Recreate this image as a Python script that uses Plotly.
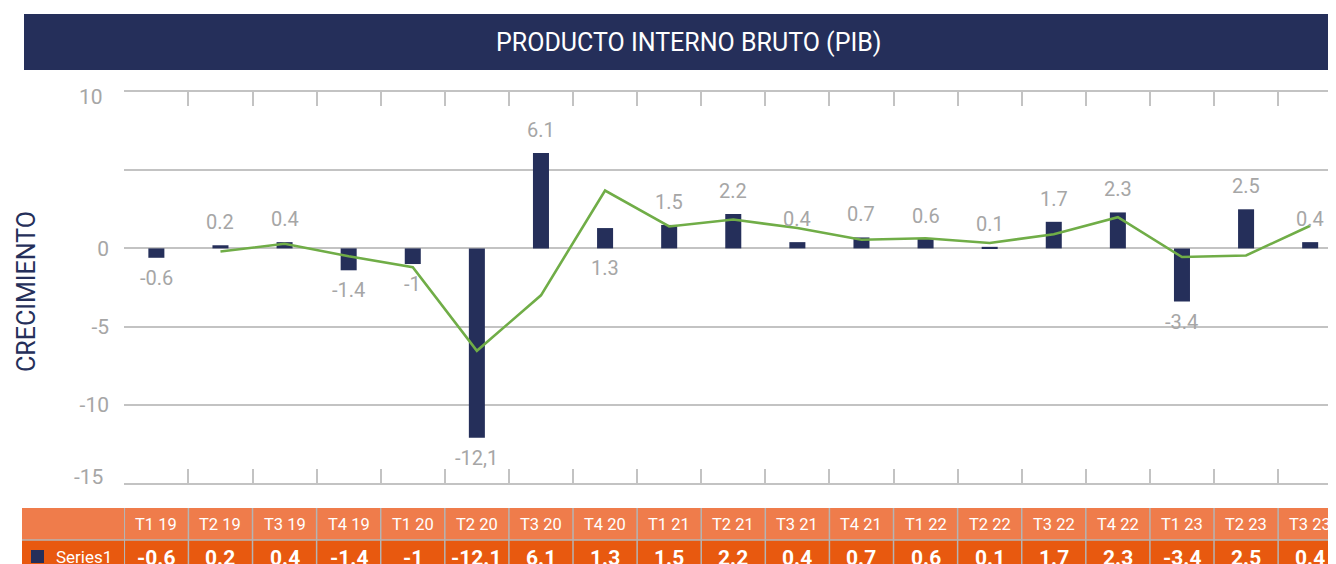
import plotly.graph_objects as go

# ---------------- data ----------------
categories = ["T1 19", "T2 19", "T3 19", "T4 19", "T1 20", "T2 20", "T3 20", "T4 20",
              "T1 21", "T2 21", "T3 21", "T4 21", "T1 22", "T2 22", "T3 22", "T4 22",
              "T1 23", "T2 23", "T3 23"]
series1 = [-0.6, 0.2, 0.4, -1.4, -1, -12.1, 6.1, 1.3, 1.5, 2.2, 0.4, 0.7, 0.6, 0.1,
           1.7, 2.3, -3.4, 2.5, 0.4]
bar_labels = ["-0.6", "0.2", "0.4", "-1.4", "-1", "-12,1", "6.1", "1.3", "1.5", "2.2",
              "0.4", "0.7", "0.6", "0.1", "1.7", "2.3", "-3.4", "2.5", "0.4"]
table_values = ["-0.6", "0.2", "0.4", "-1.4", "-1", "-12.1", "6.1", "1.3", "1.5", "2.2",
                "0.4", "0.7", "0.6", "0.1", "1.7", "2.3", "-3.4", "2.5", "0.4"]
# trend line (starts at second quarter)
trend_cats = categories[1:]
trend_vals = [-0.2, 0.3, -0.5, -1.2, -6.55, -3.0, 3.7, 1.4, 1.85, 1.3, 0.55, 0.65,
              0.35, 0.9, 2.0, -0.55, -0.45, 1.45]
y_ticks = [-15, -10, -5, 0, 5, 10]
y_ticktext = ["", "-10", "-5", "0", "", ""]

NAVY = "#252f5a"
GREEN = "#70ad47"
GRAY_TXT = "#a6a6a6"
GRID = "#c3c3c3"
HEAD_OR = "#ef7c4b"
DATA_OR = "#e8590f"
FONT = "Roboto"

# page offset of the figure (body margin)
OFF = 8
# layout geometry (figure pixels)
W, H = 1336 - OFF, 564 - OFF
ML, MR, MT = 124 - OFF, 0, 92 - OFF
PH = 391
MB = H - MT - PH
PW = W - ML - MR
CAT_W = 64.1


def px_x(px):
    """reference page pixel -> paper x"""
    return (px - OFF - ML) / PW


def px_y(py):
    """reference page pixel -> paper y"""
    return (H - MB - (py - OFF)) / PH


n = len(categories)
x_lo = -0.505
x_hi = x_lo + PW / CAT_W

fig = go.Figure()
fig.add_trace(go.Bar(x=categories, y=series1, marker=dict(color=NAVY, line=dict(width=0)),
                     width=0.25, name="Series1", showlegend=False))
fig.add_trace(go.Scatter(x=trend_cats, y=trend_vals,
                         mode="lines", line=dict(color=GREEN, width=2.6),
                         showlegend=False))

shapes = []
annotations = []

# title bar
shapes.append(dict(type="rect", xref="paper", yref="paper", x0=px_x(24), x1=1.01,
                   y0=px_y(70), y1=px_y(14), fillcolor=NAVY, line=dict(width=0), layer="below"))
annotations.append(dict(xref="paper", yref="paper", x=px_x(689), y=px_y(43),
                        text="PRODUCTO INTERNO BRUTO (PIB)", showarrow=False,
                        font=dict(family=FONT, size=25, color="white"),
                        xanchor="center", yanchor="middle"))

# axis title
annotations.append(dict(xref="paper", yref="paper", x=px_x(26), y=px_y(292),
                        text="CRECIMIENTO", textangle=-90, showarrow=False,
                        font=dict(family=FONT, size=25, color=NAVY),
                        xanchor="center", yanchor="middle"))

# end tick labels (10 and -15) slightly offset as in the reference
annotations.append(dict(xref="paper", yref="y", x=px_x(105), y=10, yshift=-5,
                        text="10", showarrow=False, xanchor="right", yanchor="middle",
                        font=dict(family=FONT, size=21, color=GRAY_TXT)))
annotations.append(dict(xref="paper", yref="y", x=px_x(105), y=-15, yshift=6,
                        text="-15", showarrow=False, xanchor="right", yanchor="middle",
                        font=dict(family=FONT, size=21, color=GRAY_TXT)))

# data labels
below_zero = {"T4 20"}
for i, (c, v, t) in enumerate(zip(categories, series1, bar_labels)):
    if c in below_zero:
        yv, ys = 0, -20
    elif v >= 0:
        yv, ys = v, 23
    else:
        yv, ys = v, -20
    annotations.append(dict(x=i, y=yv, yshift=ys, text=t, showarrow=False,
                            xanchor="center", yanchor="middle",
                            font=dict(family=FONT, size=20, color=GRAY_TXT)))

# data table
head_top, head_bot, row_bot = px_y(508), px_y(540), px_y(575)
shapes.append(dict(type="rect", xref="paper", yref="paper", x0=px_x(22), x1=1.01,
                   y0=head_bot, y1=head_top, fillcolor=HEAD_OR, line=dict(width=0)))
shapes.append(dict(type="rect", xref="paper", yref="paper", x0=px_x(22), x1=1.01,
                   y0=row_bot, y1=head_bot, fillcolor=DATA_OR, line=dict(width=0)))
shapes.append(dict(type="line", xref="paper", yref="paper", x0=px_x(22), x1=1.01,
                   y0=head_bot, y1=head_bot, line=dict(color="#b4b4b4", width=1.5)))
for i in range(n + 1):
    shapes.append(dict(type="line", xref="x", yref="paper", x0=i - 0.5, x1=i - 0.5,
                       y0=row_bot, y1=head_top, line=dict(color="#b4b4b4", width=1.5)))
for i, (c, t) in enumerate(zip(categories, table_values)):
    annotations.append(dict(x=i, xref="x", yref="paper", y=px_y(524), text=c,
                            showarrow=False, xanchor="center", yanchor="middle",
                            font=dict(family=FONT, size=16.5, color="white")))
    annotations.append(dict(x=i, xref="x", yref="paper", y=px_y(558), text="<b>%s</b>" % t,
                            showarrow=False, xanchor="center", yanchor="middle",
                            font=dict(family=FONT, size=21, color="white")))
# legend key in table
shapes.append(dict(type="rect", xref="paper", yref="paper", x0=px_x(31), x1=px_x(44),
                   y0=px_y(563), y1=px_y(550), fillcolor=NAVY, line=dict(width=0)))
annotations.append(dict(xref="paper", yref="paper", x=px_x(54), y=px_y(557),
                        text="Series1", showarrow=False, xanchor="left", yanchor="middle",
                        font=dict(family=FONT, size=17, color="white")))

fig.update_layout(
    width=W, height=H,
    margin=dict(l=ML, r=MR, t=MT, b=MB, pad=0),
    paper_bgcolor="white", plot_bgcolor="white",
    shapes=shapes, annotations=annotations,
    showlegend=False,
    xaxis=dict(type="category", categoryorder="array", categoryarray=categories,
               range=[x_lo, x_hi],
               showticklabels=False, tickson="boundaries", ticks="inside", ticklen=14,
               tickwidth=2, tickcolor=GRID, showline=True, linecolor=GRID, linewidth=2,
               mirror="ticks", showgrid=False, zeroline=False, fixedrange=True),
    yaxis=dict(range=[-15, 10], tickmode="array", tickvals=y_ticks, ticktext=y_ticktext,
               showgrid=True, gridcolor=GRID, gridwidth=1.5, zeroline=False,
               showline=False, ticks="", ticklabelstandoff=14,
               tickfont=dict(family=FONT, size=21, color=GRAY_TXT), fixedrange=True),
)

fig.write_html("out.html")
